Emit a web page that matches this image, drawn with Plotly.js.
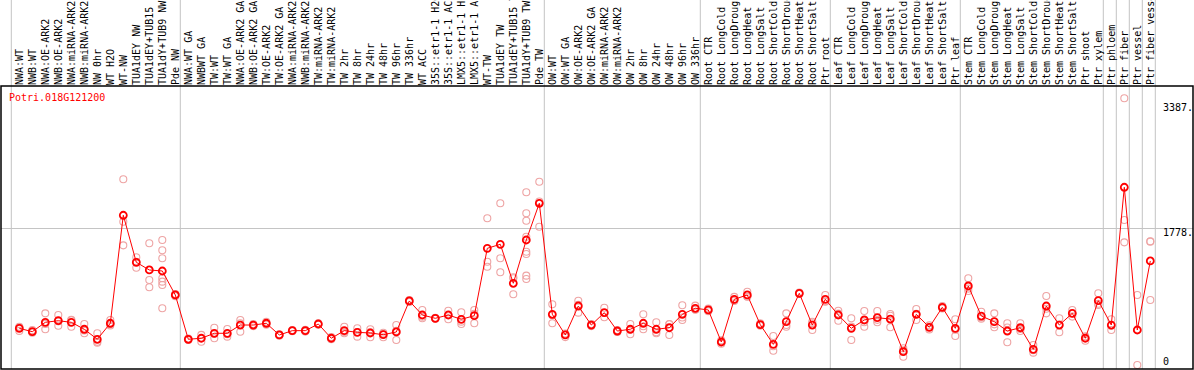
<!DOCTYPE html>
<html>
<head>
<meta charset="utf-8">
<script src="https://cdn.plot.ly/plotly-3.0.1.min.js"></script>
<style>html,body{margin:0;padding:0;background:#fff;} #chart{width:1194px;height:370px;}</style>
</head>
<body>
<div id="chart"></div>
<script>
const geneId = "Potri.018G121200";

const labels = [
  "NWA:WT","NWB:WT","NWA:OE-ARK2","NWB:OE-ARK2","NWA:miRNA-ARK2","NWB:miRNA-ARK2","NW 0hr","WT H2O","WT-NW","TUA1dEY NW","TUA1dEY+TUB15 NW","TUA1dY+TUB9 NW","Pde NW",
  "NWA:WT GA","NWBWT GA","TW:WT","TW:WT GA","NWA:OE-ARK2 GA","NWB:OE-ARK2 GA","TW:OE-ARK2","TW:OE-ARK2 GA","NWA:miRNA-ARK2","NWB:miRNA-ARK2","TW:miRNA-ARK2","TW:miRNA-ARK2","TW 2hr","TW 8hr","TW 24hr","TW 48hr","TW 96hr","TW 336hr","WT ACC","35S::etr1-1 H2O","35S::etr1-1 ACC","LMX5::etr1-1 H2O","LMX5::etr1-1 ACC","WT-TW","TUA1dEY TW","TUA1dEY+TUB15 TW","TUA1dY+TUB9 TW","Pde TW",
  "OW:WT","OW:WT GA","OW:OE-ARK2","OW:OE-ARK2 GA","OW:miRNA-ARK2","OW:miRNA-ARK2","OW 2hr","OW 8hr","OW 24hr","OW 48hr","OW 96hr","OW 336hr",
  "Root CTR","Root LongCold","Root LongDrought","Root LongHeat","Root LongSalt","Root ShortCold","Root ShortDrought","Root ShortHeat","Root ShortSalt","Ptr root",
  "Leaf CTR","Leaf LongCold","Leaf LongDrought","Leaf LongHeat","Leaf LongSalt","Leaf ShortCold","Leaf ShortDrought","Leaf ShortHeat","Leaf ShortSalt","Ptr leaf",
  "Stem CTR","Stem LongCold","Stem LongDrought","Stem LongHeat","Stem LongSalt","Stem ShortCold","Stem ShortDrought","Stem ShortHeat","Stem ShortSalt","Ptr shoot","Ptr xylem",
  "Ptr phloem","Ptr fiber","Ptr vessel","Ptr fiber vessel"
];

// index of the first sample of each group (last entry closes the final group)
const groupStarts = [0, 13, 41, 53, 63, 73, 84, 85, 86, 87, 88];

const means = [
  410,364,492,514,492,397,260,479,1956,1313,1208,1194,866,
  260,274,342,342,455,455,479,319,378,378,469,274,378,355,346,323,360,784,592,547,592,533,583,1504,1559,1026,1618,2120,
  602,319,715,455,624,373,397,479,397,418,602,684,
  661,223,807,866,460,191,501,889,455,807,
  592,410,524,555,537,90,602,424,697,410,
  989,578,501,373,418,123,715,455,615,274,788,
  455,2339,387,1331
];

const reps = [
  [430,375,420],[385,350,360],[615,470,397],[592,505,446],[520,432,525],[469,342,380],[342,213,225],[524,465,450],
  [2448,1868,1545],[1381,1239,1320],[1573,1071,971],[1618,1477,1368,1094,1048,1002,684],[880,850,868],
  [260,250,270],[274,227,320],[418,274,335],[400,296,330],[524,364,477],[455,440,470],[500,460,477],[319,310,328],
  [378,370,386],[378,365,390],[469,480,458],[290,260,272],[432,342,360],[410,296,360],[397,287,355],[350,287,332],
  [455,250,375],[784,770,798],[661,547,568],[547,540,555],[651,533,592],[629,469,501],[661,479,609],
  [1915,1321,1253],[2120,1368,1176],[1108,875,1095],[2270,1983,1882,1663,1458,1426,1130,1085],[2415,1800,2145],
  [739,479,590],[340,290,327],[788,624,733],[455,440,470],[692,561,619],[373,360,386],[469,328,394],[602,397,438],
  [492,342,357],[469,319,466],[725,524,557],[720,665,667],
  [680,645,658],[245,200,224],[840,785,796],[911,845,842],[480,445,455],[305,104,164],[615,432,456],[889,880,898],
  [500,387,478],[866,780,775],
  [651,514,611],[547,250,433],[647,432,493],[647,492,526],[606,424,581],[22,110,138],[674,524,608],[450,395,427],
  [715,680,697],[533,305,392],
  [1094,920,953],[637,540,557],[615,424,464],[479,219,421],[479,373,402],[182,77,110],[852,615,678],[547,356,462],
  [660,570,615],[300,240,282],[889,729,746],
  [533,387,445],[3556,1891,1586],[866,-92,387],[1595,1600,797]
];

const axisLabels = ["3387.", "1778.", "0"];
const gridValue = 1778;

const idx = labels.map((_, i) => i);
const repX = [], repY = [];
reps.forEach((arr, i) => arr.forEach(v => { repX.push(i); repY.push(v); }));

const traces = [
  {
    x: repX, y: repY, type: "scatter", mode: "markers", hoverinfo: "skip",
    marker: {symbol: "circle-open", size: 7, color: "#eea4a4", line: {width: 1.1}}
  },
  {
    x: idx, y: means, type: "scatter", mode: "lines+markers", hoverinfo: "skip",
    line: {color: "#ff0000", width: 1},
    marker: {symbol: "circle-open", size: 7, color: "#ff0000", line: {width: 1.8}}
  }
];

const sepOffset = 8 / 13;
const shapes = groupStarts.map(g => ({
  type: "line", xref: "x", yref: "paper", x0: g - sepOffset, x1: g - sepOffset, y0: 0, y1: 1.31,
  line: {color: "#c4c4c4", width: 1}, layer: "below"
}));
shapes.push({type: "rect", xref: "paper", yref: "paper", x0: 0, x1: 1, y0: 0, y1: 1,
  line: {color: "#000", width: 1.5}});

const labelY = [0.9233, 0.4830, 0.0258];
const annotations = axisLabels.map((t, i) => ({
  text: t, xref: "paper", yref: "paper", x: (1162 - 1) / 1192, y: labelY[i],
  xanchor: "left", yanchor: "middle", showarrow: false, borderpad: 0,
  font: {family: "DejaVu Sans Mono", size: 10, color: "#000"}
}));
annotations.push({
  text: geneId, xref: "paper", yref: "paper", x: (8 - 1) / 1192, y: (369 - 97.3) / 283,
  xanchor: "left", yanchor: "middle", showarrow: false, borderpad: 0,
  font: {family: "DejaVu Sans Mono", size: 10, color: "#ff0000"}
});

const layout = {
  width: 1194, height: 370,
  margin: {l: 1, r: 1, t: 86, b: 1, pad: 0},
  paper_bgcolor: "#fff", plot_bgcolor: "#fff",
  showlegend: false,
  xaxis: {
    range: [-1.4077, 90.285], side: "top", tickmode: "array", tickvals: idx, ticktext: labels,
    tickangle: -90, ticks: "", showgrid: false, zeroline: false, showline: false,
    tickfont: {family: "DejaVu Sans Mono", size: 10, color: "#000"}, fixedrange: true
  },
  yaxis: {
    range: [-146.4, 3724], tickmode: "array", tickvals: [gridValue], showticklabels: false,
    showgrid: true, gridcolor: "#c4c4c4", gridwidth: 1, zeroline: false, ticks: "", fixedrange: true
  },
  shapes: shapes,
  annotations: annotations
};

Plotly.newPlot("chart", traces, layout, {staticPlot: true, displayModeBar: false});
</script>
</body>
</html>
